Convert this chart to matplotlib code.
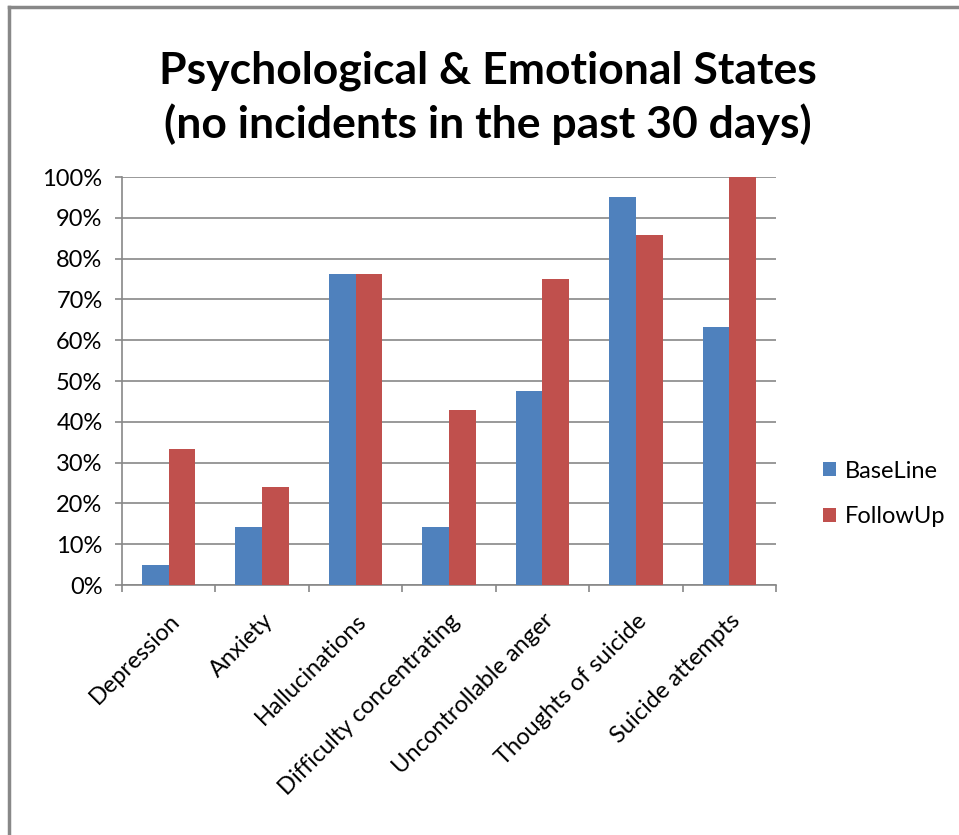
import numpy as np
import matplotlib
matplotlib.use("Agg")
import matplotlib.pyplot as plt
from matplotlib.lines import Line2D
from matplotlib.ticker import FuncFormatter, MultipleLocator

categories = ["Depression", "Anxiety", "Hallucinations", "Difficulty concentrating",
              "Uncontrollable anger", "Thoughts of suicide", "Suicide attempts"]
baseline = [5.0, 14.3, 76.2, 14.3, 47.6, 95.2, 63.2]
followup = [33.3, 23.9, 76.2, 42.9, 75.0, 85.7, 100.0]

plt.rcParams['font.family'] = ['Lato', 'DejaVu Sans']

fig = plt.figure(figsize=(9.59, 8.35), dpi=100)
ax = fig.add_axes([0.1272, 0.2994, 0.682, 0.4886])

x = np.arange(len(categories))
w = 1 / 3.5
ax.bar(x - w / 2, baseline, w, color='#4F81BD', label='BaseLine', zorder=3)
ax.bar(x + w / 2, followup, w, color='#C0504D', label='FollowUp', zorder=3)

ax.set_xlim(-0.5, len(categories) - 0.5)
ax.set_ylim(0, 100)
ax.yaxis.set_major_locator(MultipleLocator(10))
ax.yaxis.set_major_formatter(FuncFormatter(lambda v, p: f"{v:.0f}%"))
ax.grid(axis='y', color='#888888', linewidth=1.2, zorder=0)

for s in ['top', 'right']:
    ax.spines[s].set_visible(False)
for s in ['left', 'bottom']:
    ax.spines[s].set_color('#888888')
    ax.spines[s].set_linewidth(1.2)

# ticks sit on the category boundaries
ax.set_xticks(np.arange(len(categories) + 1) - 0.5, minor=False)
ax.set_xticklabels([])
ax.set_xticks(x, minor=True)
ax.set_xticklabels(categories, minor=True, rotation=45, ha='right', va='top',
                   rotation_mode='anchor', fontsize=17, color='#000000')
ax.tick_params(axis='x', which='major', length=5, color='#888888', width=1.2)
ax.tick_params(axis='x', which='minor', length=0, pad=18)
ax.tick_params(axis='y', length=5, color='#888888', width=1.2, pad=9,
               labelsize=17, labelcolor='#000000')

ax.legend(loc='center left', bbox_to_anchor=(1.04, 0.223), frameon=False,
          fontsize=17, handlelength=0.55, handleheight=0.55, handletextpad=0.35,
          labelspacing=1.05)

fig.suptitle("Psychological & Emotional States\n(no incidents in the past 30 days)",
             x=0.509, y=0.94, fontsize=32, fontweight='bold', linespacing=1.38)

# chart border
fig.add_artist(Line2D([0.0094, 0.0094], [0, 0.992], color='#888888', linewidth=2.5))
fig.add_artist(Line2D([0.0094, 1], [0.992, 0.992], color='#888888', linewidth=2.5))

fig.savefig("out.png", dpi=100)
